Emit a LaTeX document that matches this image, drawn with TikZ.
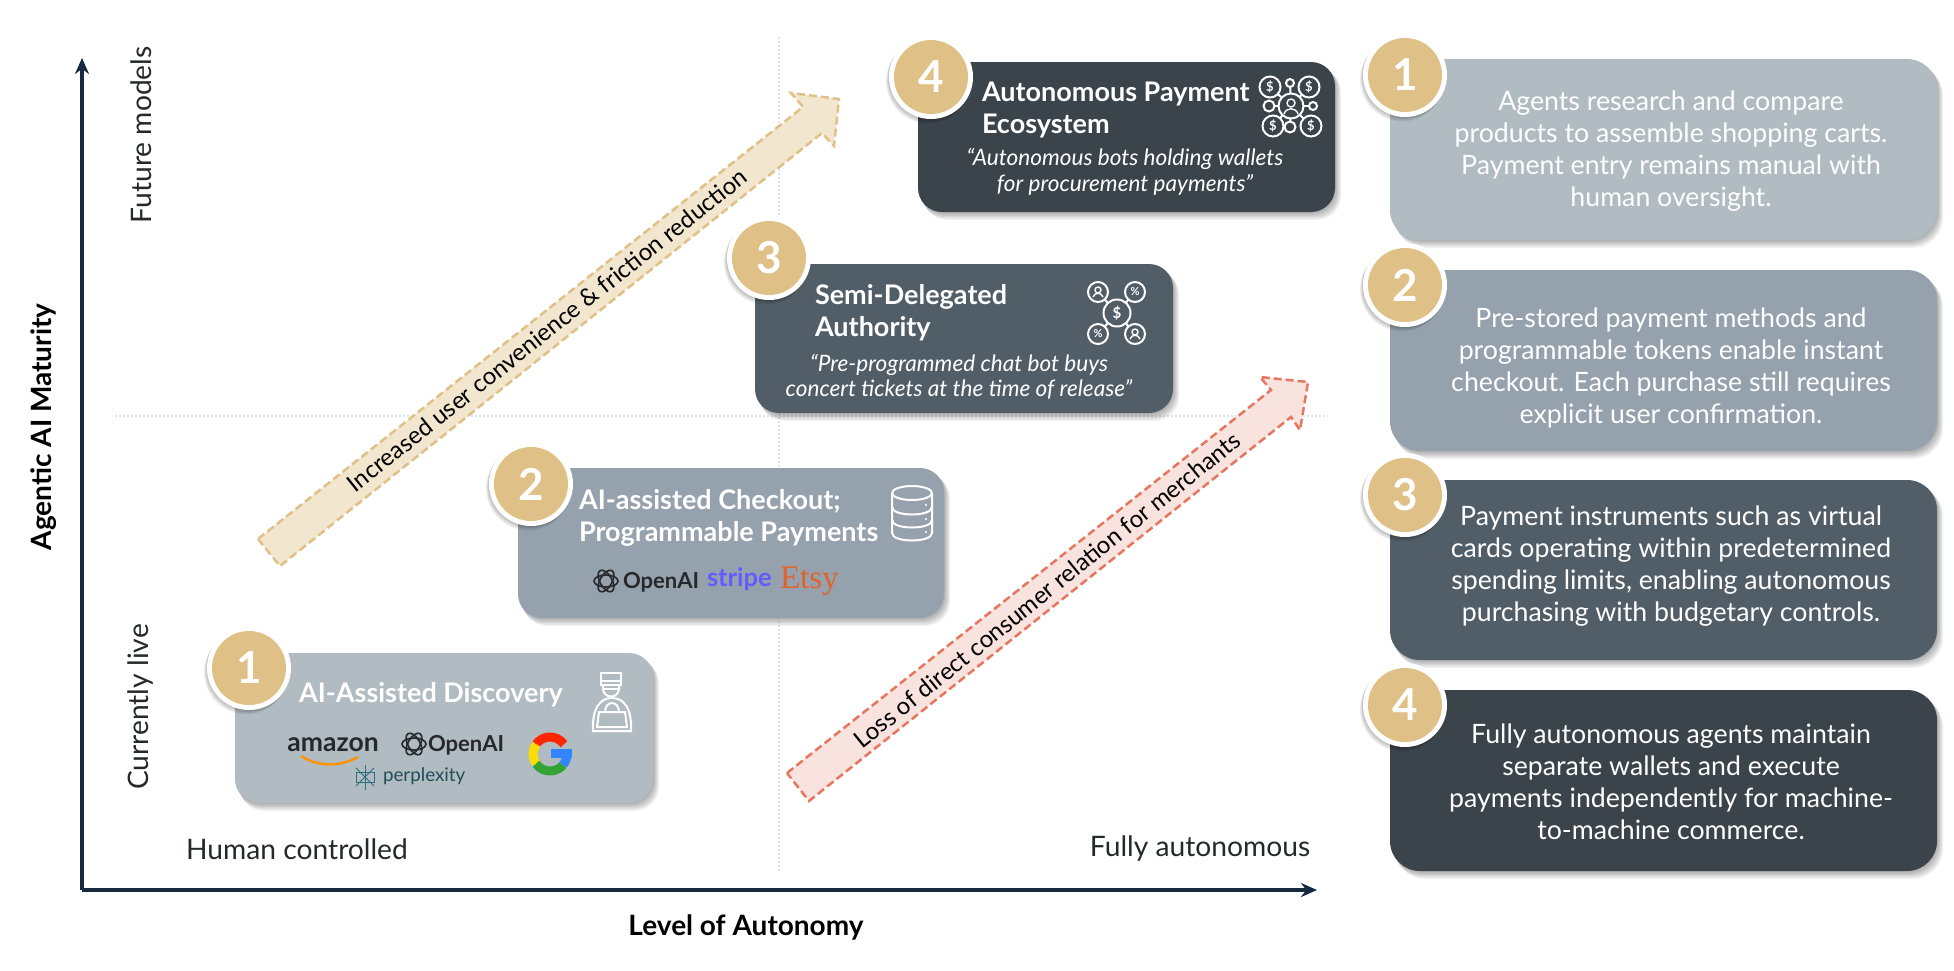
\documentclass[tikz,border=0pt]{standalone}
\usepackage{fontspec}
\setmainfont{Lato}
\newfontfamily\etsyfont{Liberation Serif}
\usetikzlibrary{arrows.meta,calc}
\definecolor{cardA}{HTML}{B0BBC2}
\definecolor{cardB}{HTML}{95A2AD}
\definecolor{cardC}{HTML}{515E68}
\definecolor{cardD}{HTML}{3B434B}
\definecolor{goldc}{HTML}{DFC187}
\definecolor{goldfill}{HTML}{F2E6CF}
\definecolor{redline}{HTML}{E6775E}
\definecolor{redfill}{HTML}{F8E3DE}
\definecolor{navy}{HTML}{17293F}
\definecolor{gridc}{HTML}{D9E5F7}
\definecolor{inkc}{HTML}{26282B}
\definecolor{stripec}{HTML}{635BFF}
\definecolor{etsyc}{HTML}{E2622B}
\definecolor{perpc}{HTML}{2F6F7E}
\tikzset{
  x=1pt,y=-1pt,
  txt/.style={inner sep=0pt,outer sep=0pt},
  titletxt/.style={txt,text=white,anchor=west,align=left,font=\fontsize{27}{32}\selectfont\bfseries},
  quotetxt/.style={txt,text=white,align=center,font=\fontsize{22.6}{25.5}\selectfont\itshape},
  bodytxt/.style={txt,text=white,align=center,font=\fontsize{26.7}{32}\selectfont},
  axistxt/.style={txt,text=inkc,font=\fontsize{28.2}{30}\selectfont},
  axisbold/.style={txt,text=black,font=\fontsize{28}{30}\selectfont\bfseries},
  arrowtxt/.style={txt,text=black,font=\fontsize{24}{28}\selectfont},
  gridline/.style={gridc,line width=1.8pt,dash pattern=on 2pt off 2pt},
  axisline/.style={navy,line width=3.5pt,-{Stealth[length=16pt,width=14pt]}},
  iconline/.style={white,line width=2pt},
  iconc/.style={circle,draw=white,line width=2pt,inner sep=0pt,outer sep=0pt,text=white,font=\fontsize{13}{13}\selectfont\bfseries},
  openring/.style={inkc,line width=1.6pt},
}
% name, left, top, right, bottom, colour, radius
\newcommand{\cardbox}[7]{%
  \foreach \k in {1,...,6}{%
    \fill[black,opacity=.055,rounded corners=#7pt] ({#2+\k*0.8},{#3+\k*1.1}) rectangle ({#4+\k*1.0},{#5+\k*1.3});
  }%
  \fill[#6,rounded corners=#7pt] (#2,#3) rectangle (#4,#5);
  \coordinate (#1) at ({(#2+#4)/2},{(#3+#5)/2});
}
% name, x, y, digit
\newcommand{\badge}[4]{%
  \foreach \k in {1,...,5}{%
    \fill[black,opacity=.05] ({#2-\k*0.6},{#3+\k*0.9}) circle[radius=42pt];
  }%
  \fill[white] (#2,#3) circle[radius=42pt];
  \node[circle,fill=goldc,minimum size=74pt,inner sep=0pt,text=white,font=\fontsize{44}{44}\selectfont\bfseries] (#1) at (#2,#3) {#4};
}
% OpenAI knot
\newcommand{\openknot}[2]{%
  \foreach \a in {0,60,120}{%
    \draw[openring,rotate around={\a:(#1,#2)}] (#1,#2) ellipse[x radius=12pt,y radius=6pt];
  }%
}
\begin{document}
\begin{tikzpicture}
\useasboundingbox (0,0) rectangle (1954,970);
\fill[white] (0,0) rectangle (1954,970);

% grid
\coordinate (gt) at (779,37);
\coordinate (gb) at (779,872);
\coordinate (gl) at (115,416);
\coordinate (gr) at (1327,416);
\draw[gridline] (gt) -- (gb);
\draw[gridline] (gl) -- (gr);

% axes
\coordinate (org) at (82,890);
\coordinate (ytop) at (82,58);
\coordinate (xend) at (1317,890);
\draw[axisline] (org) -- (ytop);
\draw[axisline] (org) -- (xend);

\node[axisbold,rotate=90] (ylab) at (44,427) {Agentic AI Maturity};
\node[axisbold] (xlab) at (746,927) {Level of Autonomy};
\node[axistxt,rotate=90] (future) at (141,135) {Future models};
\node[axistxt,rotate=90] (live) at (141,707) {Currently live};
\node[axistxt] (human) at (297,849) {Human controlled};
\node[axistxt] (fully) at (1200,849) {Fully autonomous};

% gold arrow
\draw[goldc,fill=goldfill,line width=2.5pt,dash pattern=on 8pt off 4pt]
  (258,539) -- (803,107) -- (791,93) -- (839,99) -- (834,146) -- (822,133) -- (280,566) -- cycle;
\node[arrowtxt,rotate=38.5] (goldtxt) at (547,330) {Increased user convenience \& friction reduction};

% red arrow
\draw[redline,fill=redfill,line width=2.5pt,dash pattern=on 8pt off 4pt]
  (787,773) -- (1271,390) -- (1260,377) -- (1308,382) -- (1300,430) -- (1291,417) -- (809,801) -- cycle;
\node[arrowtxt,rotate=38.8] (redtxt) at (1047,590) {Loss of direct consumer relation for merchants};

% left cards
\cardbox{cA}{235}{653}{653}{803}{cardA}{24}
\cardbox{cB}{518}{468}{944}{618}{cardB}{24}
\cardbox{cC}{755}{264}{1173}{413}{cardC}{24}
\cardbox{cD}{918}{62}{1335}{212}{cardD}{24}

\badge{bA}{249}{668}{1}
\badge{bB}{531}{484}{2}
\badge{bC}{769}{258}{3}
\badge{bD}{931}{77}{4}

% titles
\node[titletxt] (tA) at (299,695) {AI-Assisted Discovery};
\node[titletxt] (tB) at (579,518) {AI-assisted Checkout;\\Programmable Payments};
\node[titletxt] (tC) at (815,313) {Semi-Delegated\\Authority};
\node[titletxt] (tD) at (982,110) {Autonomous Payment\\Ecosystem};
\node[quotetxt] (qC) at (959,377) {“Pre-programmed chat bot buys\\concert tickets at the time of release”};
\node[quotetxt] (qD) at (1125,172) {“Autonomous bots holding wallets\\for procurement payments”};

% logos card 1
\node[txt,text=inkc,font=\fontsize{26.5}{27}\selectfont\bfseries] (amz) at (333,745) {amazon};
\draw[orange!85!yellow,line width=2.4pt] (301,756) .. controls (318,767) and (340,767) .. (358,757);
\openknot{414}{744}
\node[txt,text=inkc,anchor=west,font=\fontsize{22}{22}\selectfont\bfseries] (oa1) at (428,745) {OpenAI};
\node[txt,text=perpc!70!black,anchor=west,font=\fontsize{18.8}{20}\selectfont] (perp) at (383,776) {perplexity};
\begin{scope}[perpc,line width=1pt]
  \draw (365,765) -- (365,790);
  \draw (356,768) -- (374,786) (374,768) -- (356,786);
  \draw (356,772) rectangle (374,782);
\end{scope}
% Google G
\draw[red!70!orange,line width=9pt] (550,754) ++(35:17pt) arc[start angle=35,end angle=145,radius=17pt];
\draw[yellow!80!orange,line width=9pt] (550,754) ++(145:17pt) arc[start angle=145,end angle=215,radius=17pt];
\draw[green!55!black!80!white,line width=9pt] (550,754) ++(215:17pt) arc[start angle=215,end angle=320,radius=17pt];
\draw[blue!60!cyan!80!white,line width=9pt] (550,754) ++(320:17pt) arc[start angle=320,end angle=360,radius=17pt];
\fill[blue!60!cyan!80!white] (551,749) rectangle (572,758);

% logos card 2
\openknot{606}{581}
\node[txt,text=inkc,anchor=west,font=\fontsize{22}{22}\selectfont\bfseries] (oa2) at (623,582) {OpenAI};
\node[txt,text=stripec,anchor=west,font=\fontsize{25.5}{28}\selectfont\bfseries] (stripe) at (707,579) {stripe};
\node[txt,text=etsyc,anchor=west,font=\fontsize{33}{33}\selectfont\etsyfont] (etsy) at (780,581) {Etsy};

% bellhop icon
\begin{scope}[iconline]
  \draw (601,673) rectangle (621,685);
  \draw (601,681) -- (621,681);
  \draw (603,685) -- (603,689) .. controls (604,699) and (618,699) .. (619,689) -- (619,685);
  \draw (604,689) -- (618,689);
  \draw (593,731) .. controls (592,708) and (600,698) .. (612,698) .. controls (624,698) and (632,708) .. (631,731) -- cycle;
  \draw (599,712) -- (625,712) -- (627,727) -- (597,727) -- cycle;
  \draw (605,712) .. controls (605,700) and (619,700) .. (619,712);
\end{scope}

% database icon
\begin{scope}[iconline]
  \draw (912,493) ellipse[x radius=20pt,y radius=7pt];
  \draw (892,493) -- (892,533) .. controls (892,543) and (932,543) .. (932,533) -- (932,493);
  \draw (892,507) .. controls (892,517) and (932,517) .. (932,507);
  \draw (892,520) .. controls (892,530) and (932,530) .. (932,520);
  \fill[white] (926,505) circle[radius=1.2pt] (926,519) circle[radius=1.2pt] (926,532) circle[radius=1.2pt];
\end{scope}

% network icon card 3
\node[iconc,minimum size=27pt,font=\fontsize{15}{15}\selectfont\bfseries] (n3c) at (1117,313) {\$};
\node[iconc,minimum size=20pt] (n3a) at (1098,292) {};
\node[iconc,minimum size=20pt,font=\fontsize{11}{11}\selectfont\bfseries] (n3b) at (1135,292) {\%};
\node[iconc,minimum size=20pt,font=\fontsize{11}{11}\selectfont\bfseries] (n3d) at (1098,334) {\%};
\node[iconc,minimum size=20pt] (n3e) at (1135,334) {};
\foreach \m in {n3a,n3b,n3d,n3e}{\draw[iconline] (n3c) -- (\m);}
\foreach \m in {n3a,n3e}{%
  \draw[white,line width=1.4pt] ($(\m)+(0,-2)$) circle[radius=3pt];
  \draw[white,line width=1.4pt] ($(\m)+(-5,5)$) .. controls ($(\m)+(-3,0)$) and ($(\m)+(3,0)$) .. ($(\m)+(5,5)$);
}

% network icon card 4
\node[iconc,minimum size=25pt] (n4c) at (1291,106) {};
\draw[white,line width=1.4pt] (1291,103) circle[radius=4pt];
\draw[white,line width=1.4pt] (1284,114) .. controls (1286,107) and (1296,107) .. (1298,114);
\node[iconc,minimum size=21pt] (n41) at (1270,87) {\$};
\node[iconc,minimum size=21pt] (n42) at (1309,87) {\$};
\node[iconc,minimum size=21pt] (n43) at (1273,126) {\$};
\node[iconc,minimum size=21pt] (n44) at (1311,126) {\$};
\node[iconc,minimum size=8pt] (n45) at (1290,83) {};
\node[iconc,minimum size=11pt] (n46) at (1269,106) {};
\node[iconc,minimum size=8pt] (n47) at (1313,106) {};
\node[iconc,minimum size=11pt] (n48) at (1290,127) {};
\foreach \m in {n41,n42,n43,n44,n45,n46,n47,n48}{\draw[iconline] (n4c) -- (\m);}

% right cards
\cardbox{rA}{1390}{59}{1937}{240}{cardA}{30}
\cardbox{rB}{1390}{270}{1937}{451}{cardB}{30}
\cardbox{rC}{1390}{480}{1937}{660}{cardC}{30}
\cardbox{rD}{1390}{690}{1937}{871}{cardD}{30}
\badge{b1}{1405}{75}{1}
\badge{b2}{1405}{285}{2}
\badge{b3}{1405}{495}{3}
\badge{b4}{1405}{705}{4}
\node[bodytxt] (d1) at (1671,151) {Agents research and compare\\products to assemble shopping carts.\\Payment entry remains manual with\\human oversight.};
\node[bodytxt] (d2) at (1671,368) {Pre-stored payment methods and\\programmable tokens enable instant\\checkout. Each purchase still requires\\explicit user confirmation.};
\node[bodytxt] (d3) at (1671,566) {Payment instruments such as virtual\\cards operating within predetermined\\spending limits, enabling autonomous\\purchasing with budgetary controls.};
\node[bodytxt] (d4) at (1671,782) {Fully autonomous agents maintain\\separate wallets and execute\\payments independently for machine-\\to-machine commerce.};
\end{tikzpicture}
\end{document}
